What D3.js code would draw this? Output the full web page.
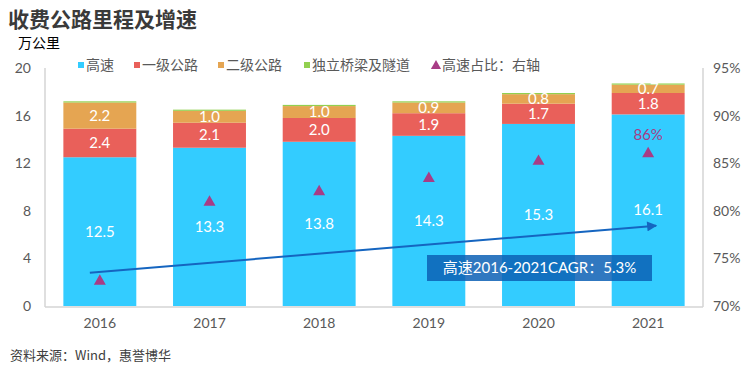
<!DOCTYPE html>
<html>
<head>
<meta charset="utf-8">
<script src="https://cdn.jsdelivr.net/npm/d3@7"></script>
<style>
  body { margin: 0; background: #fff; }
  text { font-family: Lato, "Noto Sans CJK SC", sans-serif; }
</style>
</head>
<body>
<svg id="chart" width="751" height="367"></svg>
<script>
// data
const years = ['2016', '2017', '2018', '2019', '2020', '2021'];
const expressway = [12.5, 13.3, 13.8, 14.3, 15.3, 16.1];
const class1 = [2.4, 2.1, 2.0, 1.9, 1.7, 1.8];
const class2 = [2.2, 1.0, 1.0, 0.9, 0.8, 0.7];
const bridges = [0.1, 0.1, 0.1, 0.1, 0.1, 0.1];
const share = [0.726, 0.809, 0.820, 0.834, 0.852, 0.860];
const leftTicks = [0, 4, 8, 12, 16, 20];
const rightTicks = [0.70, 0.75, 0.80, 0.85, 0.90, 0.95];
const seriesNames = ['高速', '一级公路', '二级公路', '独立桥梁及隧道'];
const colors = ['#33CCFF', '#E9605A', '#E5A552', '#92D050'];
const cagrLabel = '高速2016-2021CAGR：5.3%';
// trend arrow, in left-axis units at the 2016 / 2021 positions
const trendFrom = 2.8, trendTo = 6.75;

const margin = { top: 68, right: 48, bottom: 61, left: 45 };
const width = 751 - margin.left - margin.right;
const height = 367 - margin.top - margin.bottom;

const svg = d3.select('#chart');

const x = d3.scaleBand().domain(years).range([0, width]).paddingInner(0.335).paddingOuter(0.1675);
const y = d3.scaleLinear().domain([0, 20]).range([height, 0]);
const y2 = d3.scaleLinear().domain([0.70, 0.95]).range([height, 0]);

// title
svg.append('text').attr('x', 8).attr('y', 27)
    .style('font-family', '"Noto Sans CJK SC", sans-serif')
    .style('font-weight', 'bold').style('font-size', '21px').attr('fill', '#3a3a3a')
    .text('收费公路里程及增速');
svg.append('text').attr('x', 18).attr('y', 48)
    .style('font-size', '14px').attr('fill', '#000')
    .text('万公里');

const plot = svg.append('g').attr('transform', 'translate(' + margin.left + ',' + margin.top + ')');

// stacked bars
const rows = years.map((yr, i) => ({ year: yr, s0: expressway[i], s1: class1[i], s2: class2[i], s3: bridges[i] }));
const stacked = d3.stack().keys(['s0', 's1', 's2', 's3'])(rows);

plot.selectAll('g.layer')
    .data(stacked)
    .join('g')
    .attr('class', 'layer')
    .attr('fill', (d, i) => colors[i])
    .selectAll('rect')
    .data(d => d)
    .join('rect')
    .attr('x', d => x(d.data.year))
    .attr('width', x.bandwidth())
    .attr('y', d => y(d[1]))
    .attr('height', d => y(d[0]) - y(d[1]));

// labels inside segments (first three series)
stacked.slice(0, 3).forEach((layer, li) => {
    plot.selectAll(null)
        .data(layer)
        .join('text')
        .attr('x', d => x(d.data.year) + x.bandwidth() / 2)
        .attr('y', d => y((d[0] + d[1]) / 2))
        .attr('dy', '0.35em')
        .attr('text-anchor', 'middle')
        .attr('fill', '#fff')
        .style('font-size', '15px')
        .text(d => (d[1] - d[0]).toFixed(1));
});

// axes lines
const axisColor = '#d4d4d4';
plot.append('line').attr('x1', 0).attr('x2', 0).attr('y1', 0).attr('y2', height + 1)
    .attr('stroke', axisColor).attr('stroke-width', 1.5);
plot.append('line').attr('x1', width).attr('x2', width).attr('y1', 0).attr('y2', height + 1)
    .attr('stroke', axisColor).attr('stroke-width', 1.5);
plot.append('line').attr('x1', 0).attr('x2', width).attr('y1', height + 1).attr('y2', height + 1)
    .attr('stroke', axisColor).attr('stroke-width', 1.5);

const leftAxis = plot.append('g')
    .call(d3.axisLeft(y).tickValues(leftTicks).tickSize(0).tickPadding(14));
const rightAxis = plot.append('g').attr('transform', 'translate(' + width + ',0)')
    .call(d3.axisRight(y2).tickValues(rightTicks).tickSize(0).tickPadding(10).tickFormat(d3.format('.0%')));
const bottomAxis = plot.append('g').attr('transform', 'translate(0,' + height + ')')
    .call(d3.axisBottom(x).tickSize(0).tickPadding(12));
[leftAxis, rightAxis, bottomAxis].forEach(a => {
    a.select('.domain').remove();
    a.selectAll('text').attr('fill', '#595959').style('font-size', '14px')
        .style('font-family', 'Lato, "Noto Sans CJK SC", sans-serif');
});

// trend arrow
const defs = svg.append('defs');
defs.append('marker').attr('id', 'arrow')
    .attr('viewBox', '0 0 10 10').attr('refX', 9).attr('refY', 5)
    .attr('markerWidth', 6).attr('markerHeight', 5).attr('orient', 'auto')
    .append('path').attr('d', 'M0,0 L10,5 L0,10 z').attr('fill', '#1565C0');

const cx0 = x(years[0]) + x.bandwidth() / 2 - 10;
const cx1 = x(years[years.length - 1]) + x.bandwidth() / 2 + 8;
plot.append('line')
    .attr('x1', cx0).attr('y1', y(trendFrom))
    .attr('x2', cx1).attr('y2', y(trendTo))
    .attr('stroke', '#1565C0').attr('stroke-width', 2)
    .attr('marker-end', 'url(#arrow)');

// share triangles on the right axis
plot.selectAll('path.tri')
    .data(share)
    .join('path')
    .attr('class', 'tri')
    .attr('transform', (d, i) => 'translate(' + (x(years[i]) + x.bandwidth() / 2) + ',' + y2(d) + ')')
    .attr('d', d3.symbol().type(d3.symbolTriangle).size(62))
    .attr('fill', '#A83C86');

plot.append('text')
    .attr('x', x(years[5]) + x.bandwidth() / 2)
    .attr('y', y2(share[5]) - 14)
    .attr('text-anchor', 'middle')
    .attr('fill', '#A83C86')
    .style('font-size', '15px')
    .text(d3.format('.0%')(share[5]));

// CAGR box
const box = svg.append('g').attr('transform', 'translate(427,255)');
box.append('rect').attr('width', 225).attr('height', 26)
    .attr('fill', '#0C60B5').attr('fill-opacity', 0.85);
box.append('text').attr('x', 112.5).attr('y', 13).attr('dy', '0.36em')
    .attr('text-anchor', 'middle').attr('fill', '#fff').style('font-size', '15px')
    .text(cagrLabel);

// legend
const legendX = [78, 134, 218, 304];
const legend = svg.append('g');
seriesNames.forEach((name, i) => {
    legend.append('rect').attr('x', legendX[i]).attr('y', 62).attr('width', 6).attr('height', 6)
        .attr('fill', colors[i]);
    legend.append('text').attr('x', legendX[i] + 8).attr('y', 65).attr('dy', '0.35em')
        .attr('fill', '#595959').style('font-size', '14px')
        .style('font-family', '"Noto Sans CJK SC", sans-serif')
        .text(name);
});
legend.append('path')
    .attr('transform', 'translate(436,66)')
    .attr('d', d3.symbol().type(d3.symbolTriangle).size(45))
    .attr('fill', '#A83C86');
legend.append('text').attr('x', 442).attr('y', 65).attr('dy', '0.35em')
    .attr('fill', '#595959').style('font-size', '14px')
    .style('font-family', '"Noto Sans CJK SC", sans-serif')
    .text('高速占比：右轴');

// source
svg.append('text').attr('x', 10).attr('y', 360)
    .attr('fill', '#404040').style('font-size', '13px')
    .style('font-family', '"Noto Sans CJK SC", sans-serif')
    .text('资料来源：Wind，惠誉博华');
</script>
</body>
</html>
